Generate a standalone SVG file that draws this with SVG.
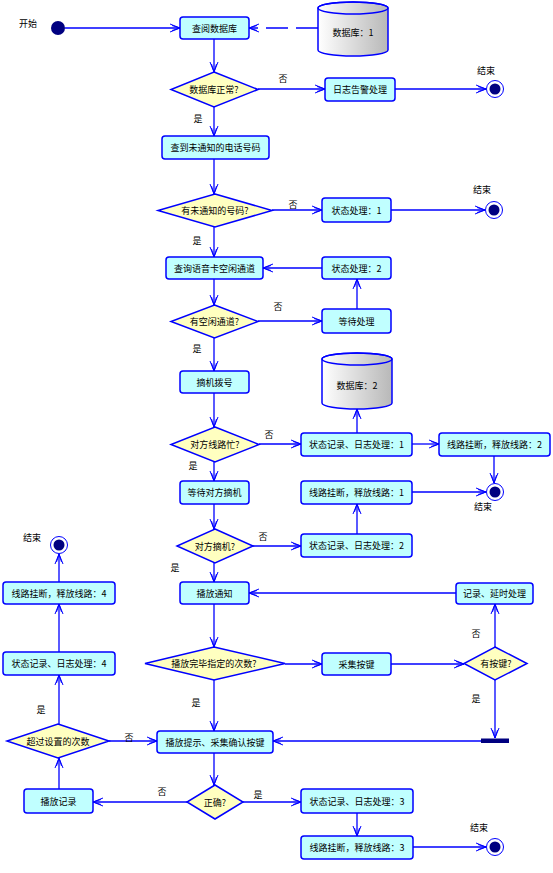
<svg xmlns="http://www.w3.org/2000/svg" width="553" height="873" viewBox="0 0 553 873">
<style>
text{font-family:"Noto Sans CJK SC","Noto Sans",sans-serif;font-size:9px;fill:#000;text-anchor:middle;dominant-baseline:central}
.box{fill:#C0FFFF;stroke:#0000FF;stroke-width:1.5}
.dia{fill:#FFFFC0;stroke:#0000FF;stroke-width:1.5}
.cyl{fill:url(#g);stroke:#0000FF;stroke-width:1.5}
.c line,.c path{stroke:#0000FF;stroke-width:1.3;fill:none;marker-end:url(#a)}
.dash{stroke-dasharray:22 8}
</style>
<defs>
<marker id="a" viewBox="0 0 10 10" refX="10" refY="5" markerWidth="10" markerHeight="10" markerUnits="userSpaceOnUse" orient="auto">
<path d="M0,1 L10,5 L0,9 M2,2.5 L10,5 L2,7.5" fill="none" stroke="#0000FF" stroke-width="1"/>
</marker>
<linearGradient id="g" x1="0" y1="0" x2="1" y2="0">
<stop offset="0" stop-color="#FFFFFF"/><stop offset="1" stop-color="#B8B8B8"/>
</linearGradient>
</defs>
<rect width="553" height="873" fill="#FFFFFF"/>

<g class="c" id="connectors">
<line x1="65" y1="28" x2="180" y2="28"/>
<line class="dash" x1="318" y1="28" x2="249" y2="28"/>
<line x1="214" y1="39" x2="214" y2="72"/>
<line x1="258" y1="89" x2="325" y2="89"/>
<line x1="395" y1="89" x2="486" y2="89"/>
<line x1="214" y1="107" x2="214" y2="136"/>
<line x1="214" y1="159" x2="214" y2="194"/>
<line x1="272" y1="210" x2="322" y2="210"/>
<line x1="391" y1="210" x2="485" y2="210"/>
<line x1="214" y1="227" x2="214" y2="257"/>
<line x1="322" y1="268" x2="263" y2="268"/>
<line x1="214" y1="279" x2="214" y2="305"/>
<line x1="258" y1="321" x2="322" y2="321"/>
<line x1="357" y1="309" x2="357" y2="279"/>
<line x1="214" y1="338" x2="214" y2="371"/>
<line x1="214" y1="393" x2="214" y2="427"/>
<line x1="259" y1="444" x2="301" y2="444"/>
<line x1="357" y1="433" x2="357" y2="409"/>
<line x1="412" y1="444" x2="439" y2="444"/>
<line x1="494" y1="456" x2="494" y2="483"/>
<line x1="214" y1="462" x2="214" y2="481"/>
<line x1="412" y1="492" x2="486" y2="492"/>
<line x1="214" y1="504" x2="214" y2="529"/>
<line x1="253" y1="546" x2="301" y2="546"/>
<line x1="357" y1="534" x2="357" y2="504"/>
<line x1="214" y1="563" x2="214" y2="582"/>
<line x1="456" y1="593" x2="249" y2="593"/>
<line x1="214" y1="604" x2="214" y2="647"/>
<line x1="285" y1="664" x2="322" y2="664"/>
<line x1="391" y1="664" x2="464" y2="664"/>
<line x1="495" y1="647" x2="495" y2="604"/>
<line x1="495" y1="680" x2="495" y2="738"/>
<line x1="481" y1="741" x2="273" y2="741"/>
<line x1="214" y1="680" x2="214" y2="731"/>
<line x1="109" y1="741" x2="157" y2="741"/>
<line x1="214" y1="753" x2="214" y2="785"/>
<line x1="187" y1="802" x2="93" y2="802"/>
<line x1="243" y1="802" x2="301" y2="802"/>
<line x1="59" y1="789" x2="59" y2="758"/>
<line x1="59" y1="724" x2="59" y2="675"/>
<line x1="59" y1="652" x2="59" y2="604"/>
<line x1="59" y1="582" x2="59" y2="554"/>
<line x1="357" y1="813" x2="357" y2="836"/>
<line x1="413" y1="847" x2="486" y2="847"/>
</g>

<g id="start"><circle cx="58" cy="28" r="7" fill="#000080"/><text x="28" y="23">开始</text></g>

<g id="n1"><rect class="box" x="180" y="17" width="69" height="22" rx="3"/><text x="214.5" y="28">查阅数据库</text></g>
<g id="db1"><path class="cyl" d="M318,8 L318,50 A35,6 0 0 0 388,50 L388,8 A35,6 0 0 0 318,8 Z"/><ellipse cx="353" cy="8" rx="35" ry="6" fill="none" stroke="#0000FF" stroke-width="1.5"/><text x="353" y="32">数据库：1</text></g>
<g id="d1"><polygon class="dia" points="214,72 258,89.5 214,107 171,89.5"/><text x="214" y="89.5">数据库正常?</text></g>
<g id="n2"><rect class="box" x="325" y="78" width="70" height="23" rx="3"/><text x="360" y="89.5">日志告警处理</text></g>
<g id="e1"><circle cx="495" cy="89" r="8.5" fill="#FFFFFF" stroke="#0000FF" stroke-width="1"/><circle cx="495" cy="89" r="5.5" fill="#000080"/><text x="486" y="70">结束</text></g>
<g id="n3"><rect class="box" x="162" y="136" width="107" height="23" rx="3"/><text x="215.5" y="147.5">查到未通知的电话号码</text></g>
<g id="d2"><polygon class="dia" points="215,194 272,210.5 215,227 158,210.5"/><text x="215" y="210.5">有未通知的号码?</text></g>
<g id="n4"><rect class="box" x="322" y="198" width="69" height="24" rx="3"/><text x="356.5" y="210">状态处理：1</text></g>
<g id="e2"><circle cx="494" cy="210" r="8.5" fill="#FFFFFF" stroke="#0000FF" stroke-width="1"/><circle cx="494" cy="210" r="5.5" fill="#000080"/><text x="482" y="189">结束</text></g>
<g id="n5"><rect class="box" x="166" y="257" width="97" height="22" rx="3"/><text x="214.5" y="268">查询语音卡空闲通道</text></g>
<g id="n6"><rect class="box" x="322" y="257" width="69" height="22" rx="3"/><text x="356.5" y="268">状态处理：2</text></g>
<g id="d3"><polygon class="dia" points="214.5,305 258,321.5 214.5,338 171,321.5"/><text x="214.5" y="321.5">有空闲通道?</text></g>
<g id="n7"><rect class="box" x="322" y="309" width="69" height="24" rx="3"/><text x="356.5" y="321">等待处理</text></g>
<g id="n8"><rect class="box" x="180" y="371" width="69" height="22" rx="3"/><text x="214.5" y="382">摘机拨号</text></g>
<g id="db2"><path class="cyl" d="M322,359 L322,403 A35,6 0 0 0 392,403 L392,359 A35,6 0 0 0 322,359 Z"/><ellipse cx="357" cy="359" rx="35" ry="6" fill="none" stroke="#0000FF" stroke-width="1.5"/><text x="357" y="385">数据库：2</text></g>
<g id="d4"><polygon class="dia" points="215,427 259,444.5 215,462 171,444.5"/><text x="215" y="444.5">对方线路忙?</text></g>
<g id="n9"><rect class="box" x="301" y="433" width="111" height="23" rx="3"/><text x="356.5" y="444.5">状态记录、日志处理：1</text></g>
<g id="n10"><rect class="box" x="439" y="433" width="111" height="23" rx="3"/><text x="494.5" y="444.5">线路挂断，释放线路：2</text></g>
<g id="e3"><circle cx="495" cy="492" r="8.5" fill="#FFFFFF" stroke="#0000FF" stroke-width="1"/><circle cx="495" cy="492" r="5.5" fill="#000080"/><text x="483" y="506">结束</text></g>
<g id="n11"><rect class="box" x="180" y="481" width="69" height="23" rx="3"/><text x="214.5" y="492.5">等待对方摘机</text></g>
<g id="n12"><rect class="box" x="301" y="481" width="111" height="23" rx="3"/><text x="356.5" y="492.5">线路挂断，释放线路：1</text></g>
<g id="d5"><polygon class="dia" points="215,529 253,546 215,563 177,546"/><text x="215" y="546">对方摘机?</text></g>
<g id="n13"><rect class="box" x="301" y="534" width="111" height="23" rx="3"/><text x="356.5" y="545.5">状态记录、日志处理：2</text></g>
<g id="n14"><rect class="box" x="180" y="582" width="69" height="22" rx="3"/><text x="214.5" y="593">播放通知</text></g>
<g id="n15"><rect class="box" x="456" y="583" width="77" height="21" rx="3"/><text x="494.5" y="593.5">记录、延时处理</text></g>
<g id="d6"><polygon class="dia" points="214,647 285,663.5 214,680 145,663.5"/><text x="214" y="663.5">播放完毕指定的次数?</text></g>
<g id="n16"><rect class="box" x="322" y="653" width="69" height="22" rx="3"/><text x="356.5" y="664">采集按键</text></g>
<g id="d7"><polygon class="dia" points="495,647 527,663.5 495,680 464,663.5"/><text x="496" y="663.5">有按键?</text></g>
<g id="bar"><rect x="481" y="738.5" width="28" height="4.5" fill="#000080"/></g>
<g id="n17"><rect class="box" x="157" y="731" width="116" height="22" rx="3"/><text x="215" y="742">播放提示、采集确认按键</text></g>
<g id="d8"><polygon class="dia" points="58,724 109,741 58,758 7,741"/><text x="58" y="741">超过设置的次数</text></g>
<g id="d9"><polygon class="dia" points="215,785 243,802 215,819 187,802"/><text x="215" y="802">正确?</text></g>
<g id="n18"><rect class="box" x="24" y="789" width="69" height="24" rx="3"/><text x="58.5" y="801">播放记录</text></g>
<g id="n19"><rect class="box" x="3" y="652" width="112" height="23" rx="3"/><text x="59" y="663.5">状态记录、日志处理：4</text></g>
<g id="n20"><rect class="box" x="3" y="582" width="112" height="22" rx="3"/><text x="59" y="593">线路挂断，释放线路：4</text></g>
<g id="e4"><circle cx="59" cy="545" r="8.5" fill="#FFFFFF" stroke="#0000FF" stroke-width="1"/><circle cx="59" cy="545" r="5.5" fill="#000080"/><text x="32" y="537">结束</text></g>
<g id="n21"><rect class="box" x="301" y="789" width="112" height="24" rx="3"/><text x="357" y="801">状态记录、日志处理：3</text></g>
<g id="n22"><rect class="box" x="301" y="836" width="112" height="23" rx="3"/><text x="357" y="847.5">线路挂断，释放线路：3</text></g>
<g id="e5"><circle cx="495" cy="847" r="8.5" fill="#FFFFFF" stroke="#0000FF" stroke-width="1"/><circle cx="495" cy="847" r="5.5" fill="#000080"/><text x="479" y="827">结束</text></g>

<g id="labels">
<text x="283" y="78">否</text>
<text x="293" y="204">否</text>
<text x="278" y="306">否</text>
<text x="269" y="434">否</text>
<text x="263" y="536">否</text>
<text x="476" y="633">否</text>
<text x="129" y="737">否</text>
<text x="162" y="791">否</text>
<text x="198" y="118">是</text>
<text x="197" y="240">是</text>
<text x="197" y="348">是</text>
<text x="193" y="465">是</text>
<text x="175" y="567">是</text>
<text x="196" y="702">是</text>
<text x="476" y="698">是</text>
<text x="41" y="709">是</text>
<text x="258" y="794">是</text>
</g>
</svg>
